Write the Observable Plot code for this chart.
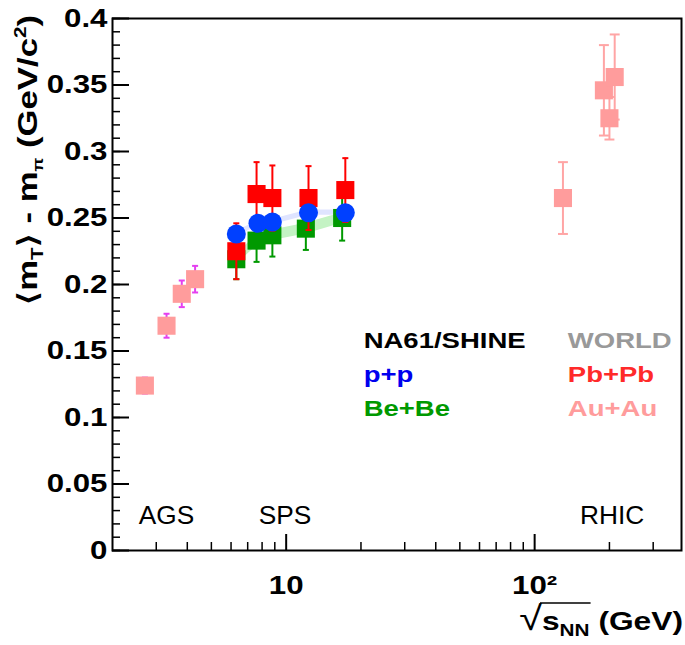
<!DOCTYPE html>
<html><head><meta charset="utf-8">
<script src="https://cdn.jsdelivr.net/npm/d3@7"></script>
<script src="https://cdn.jsdelivr.net/npm/@observablehq/plot@0.6"></script>
<style>
body{margin:0;background:#fff;}
svg{display:block;}
</style>
</head><body><div id="chart"></div>
<script>
// ---------- data ----------
// NA61/SHINE p+p
const ppEnergy = [6.3, 7.7, 8.8, 12.3, 17.3];
const ppValue  = [0.238, 0.246, 0.247, 0.254, 0.254];
const ppSys    = [0.002, 0.002, 0.002, 0.002, 0.002];
// NA61/SHINE Be+Be
const bebeEnergy = [6.3, 7.6, 8.8, 12.0, 16.8];
const bebeValue  = [0.219, 0.233, 0.237, 0.242, 0.250];
const bebeErr    = [0.015, 0.016, 0.016, 0.016, 0.017];
const bebeSys    = [0.004, 0.004, 0.004, 0.004, 0.004];
// World Pb+Pb (SPS)
const pbEnergy = [6.3, 7.6, 8.8, 12.3, 17.3];
const pbValue  = [0.225, 0.268, 0.265, 0.265, 0.271];
const pbErr    = [0.021, 0.024, 0.0245, 0.024, 0.024];
// World Au+Au (AGS)
const agsEnergy = [2.7, 3.3, 3.8, 4.3];
const agsValue  = [0.124, 0.169, 0.193, 0.204];
const agsErr    = [0.006, 0.009, 0.010, 0.010];
// World Au+Au (RHIC)
const rhicEnergy = [130, 190, 200, 210];
const rhicValue  = [0.265, 0.346, 0.325, 0.356];
const rhicErr    = [0.027, 0.034, 0.016, 0.032];

// axis ticks and labels
const yMajor = [0, 0.05, 0.1, 0.15, 0.2, 0.25, 0.3, 0.35, 0.4];
const yLabels = ["0", "0.05", "0.1", "0.15", "0.2", "0.25", "0.3", "0.35", "0.4"];
const yMinor = d3.range(0, 41).map(i => i / 100);
const xMajor = [10, 100];
const xLabels = ["10", "10\u00b2"];
const xMinor = [3, 4, 5, 6, 7, 8, 9, 20, 30, 40, 50, 60, 70, 80, 90, 200, 300];

// annotations
const regionNames  = ["AGS", "SPS", "RHIC"];
const regionEnergy = [3.3, 9.9, 205];
const legendLeft   = ["NA61/SHINE", "p+p", "Be+Be"];
const legendLeftColor = ["#000000", "#0000ee", "#009900"];
const legendRight  = ["WORLD", "Pb+Pb", "Au+Au"];
const legendRightColor = ["#999999", "#ff2a2a", "#ff9c9c"];
const legendRowValue = [0.152, 0.127, 0.1015];
const legendLeftEnergy = 20.5;
const legendRightEnergy = 136;

// ---------- tables ----------
const zip = (xs, ys, es) => xs.map((x, i) => ({x, y: ys[i], e: es ? es[i] : 0}));
const pp = zip(ppEnergy, ppValue, ppSys);
const bebe = zip(bebeEnergy, bebeValue, bebeErr).map((d, i) => ({...d, s: bebeSys[i]}));
const pb = zip(pbEnergy, pbValue, pbErr);
const ags = zip(agsEnergy, agsValue, agsErr);
const rhic = zip(rhicEnergy, rhicValue, rhicErr);

const W = 685, H = 645;
const mL = 112, mR = 4, mT = 18, mB = 95;
const plotW = W - mL - mR, plotH = H - mT - mB;
const FONT = "'Liberation Sans', Arial, Helvetica, sans-serif";

const capSym = {draw(ctx, size) { const w = Math.sqrt(size) / 2; ctx.moveTo(-w, 0); ctx.lineTo(w, 0); }};

function errorBars(data, color, capR, sw = 2) {
  return [
    Plot.ruleX(data, {x: "x", y1: d => d.y - d.e, y2: d => d.y + d.e, stroke: color, strokeWidth: sw}),
    Plot.dot(data, {x: "x", y: d => d.y - d.e, symbol: capSym, r: capR, stroke: color, strokeWidth: sw, fill: "none"}),
    Plot.dot(data, {x: "x", y: d => d.y + d.e, symbol: capSym, r: capR, stroke: color, strokeWidth: sw, fill: "none"})
  ];
}

const SQ = 10.2; // square symbol radius (side ~18px)

const chart = Plot.plot({
  width: W, height: H,
  marginLeft: mL, marginRight: mR, marginTop: mT, marginBottom: mB,
  style: {fontFamily: FONT, background: "white", overflow: "visible"},
  x: {type: "log", domain: [2, 390], axis: null},
  y: {domain: [0, 0.4], axis: null},
  marks: [
    // systematic bands
    Plot.areaY(bebe, {x: "x", y1: d => d.y - d.s, y2: d => d.y + d.s, fill: "#c4f3c4"}),
    Plot.areaY(pp, {x: "x", y1: d => d.y - d.e, y2: d => d.y + d.e, fill: "#dfe4ff"}),
    // AGS
    ...errorBars(ags, "#e43ff0", 3.4),
    Plot.dot(ags, {x: "x", y: "y", symbol: "square", r: SQ, fill: "#ff9c9c"}),
    // RHIC
    ...errorBars(rhic, "#ffa5a5", 5.6),
    Plot.dot(rhic, {x: "x", y: "y", symbol: "square", r: SQ, fill: "#ff9c9c"}),
    // Be+Be
    ...errorBars(bebe, "#009900", 3.4),
    Plot.dot(bebe, {x: "x", y: "y", symbol: "square", r: SQ, fill: "#009900"}),
    // Pb+Pb
    ...errorBars(pb, "#ff0000", 3.4),
    Plot.dot(pb, {x: "x", y: "y", symbol: "square", r: SQ, fill: "#ff0000"}),
    // p+p
    Plot.dot(pp, {x: "x", y: "y", r: 9.5, fill: "#0040ff"}),
    // ticks
    Plot.tickY(yMinor, {y: d => d, insetRight: plotW - 8, stroke: "black", strokeWidth: 1.5}),
    Plot.tickY(yMajor, {y: d => d, insetRight: plotW - 17, stroke: "black", strokeWidth: 2}),
    Plot.tickX(xMinor, {x: d => d, insetTop: plotH - 8, stroke: "black", strokeWidth: 1.5}),
    Plot.tickX(xMajor, {x: d => d, insetTop: plotH - 16, stroke: "black", strokeWidth: 2}),
    Plot.frame({stroke: "black", strokeWidth: 2}),
    // tick labels
    Plot.text(yMajor, {y: d => d, text: (d, i) => yLabels[i], frameAnchor: "left", dx: -5, textAnchor: "end", fontSize: 25, fontWeight: "bold", fill: "black"}),
    Plot.text(xMajor, {x: d => d, text: (d, i) => xLabels[i], frameAnchor: "bottom", dy: 43, fontSize: 25, fontWeight: "bold", fill: "black"}),
    // region labels
    Plot.text(regionNames, {x: (d, i) => regionEnergy[i], y: 0.02, text: d => d, lineAnchor: "bottom", fontSize: 25, fill: "black"}),
    // legend text
    Plot.text(legendLeft, {x: legendLeftEnergy, y: (d, i) => legendRowValue[i], text: d => d, textAnchor: "start", lineAnchor: "bottom", fontSize: 22, fontWeight: "bold", fill: (d, i) => legendLeftColor[i]}),
    Plot.text(legendRight, {x: legendRightEnergy, y: (d, i) => legendRowValue[i], text: d => d, textAnchor: "start", lineAnchor: "bottom", fontSize: 22, fontWeight: "bold", fill: (d, i) => legendRightColor[i]})
  ]
});
document.getElementById("chart").appendChild(chart);

// the reference's bold Helvetica is rendered wide: stretch bold labels horizontally
const STRETCH = 1.25;
function stretch(node, f) {
  const len = node.getComputedTextLength();
  node.setAttribute("textLength", (len * f).toFixed(1));
  node.setAttribute("lengthAdjust", "spacingAndGlyphs");
}
chart.querySelectorAll('g[font-weight="bold"] text').forEach(t => stretch(t, STRETCH));
chart.querySelectorAll('g[font-size="25"]:not([font-weight]) text').forEach(t => stretch(t, 1.05));

// ---------- axis titles ----------
const svg = d3.select(chart);
// y title
const yt = svg.append("text")
  .attr("transform", "translate(37,160) rotate(-90)")
  .attr("text-anchor", "middle")
  .style("font-family", FONT).style("font-size", "27px").style("font-weight", "bold").attr("fill", "black");
yt.append("tspan").text("\u27e8m");
yt.append("tspan").attr("font-size", "16px").attr("dy", 6).text("T");
yt.append("tspan").attr("dy", -6).text("\u27e9 - m");
yt.append("tspan").attr("font-size", "14px").attr("dy", 6).text("\u03c0");
yt.append("tspan").attr("dy", -6).text(" (GeV/c");
yt.append("tspan").attr("font-size", "16px").attr("dy", -11).text("2");
yt.append("tspan").attr("dy", 11).text(")");
stretch(yt.node(), 290 / yt.node().getComputedTextLength());

// x title
const xt = svg.append("text")
  .attr("x", 683).attr("y", 630)
  .attr("text-anchor", "end")
  .style("font-family", FONT).style("font-size", "26px").style("font-weight", "bold").attr("fill", "black");
xt.append("tspan").style("font-weight", "normal").attr("font-size", "34px").text("\u221a");
xt.append("tspan").text("s");
xt.append("tspan").attr("font-size", "17px").attr("dy", 6).text("NN");
xt.append("tspan").attr("dy", -6).text(" (GeV)");
stretch(xt.node(), 1.22);
const xn = xt.node();
const rad = xn.getExtentOfChar(0);
const sEnd = xn.getEndPositionOfChar(3).x;
svg.append("line")
  .attr("x1", rad.x + rad.width - 2).attr("x2", sEnd + 1)
  .attr("y1", rad.y + 4).attr("y2", rad.y + 4)
  .attr("stroke", "black").attr("stroke-width", 1.5);
</script>
</body></html>
